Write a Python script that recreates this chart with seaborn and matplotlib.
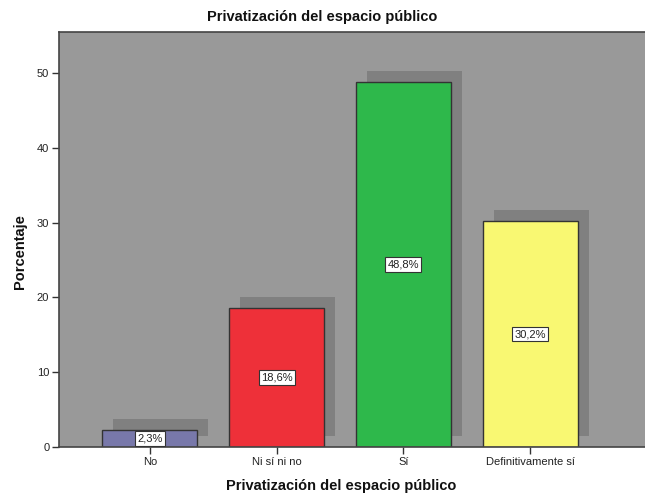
import numpy as np
import matplotlib
matplotlib.use("Agg")
import matplotlib.pyplot as plt
import matplotlib.patheffects as pe
import seaborn as sns

categorias = ["No", "Ni sí ni no", "Sí", "Definitivamente sí"]
porcentajes = [2.3, 18.6, 48.8, 30.2]
etiquetas = ["2,3%", "18,6%", "48,8%", "30,2%"]
colores = ["#7878aa", "#ee3039", "#2eb84b", "#f9f872"]

sns.set_style("white")
plt.rcParams['font.family'] = ['Liberation Sans', 'DejaVu Sans']

fig = plt.figure(figsize=(6.45, 4.96), dpi=100)
ax = fig.add_axes([59/645, 49/496, 1 - 59/645, 415/496])
ax.set_facecolor("#999999")

sns.barplot(x=categorias, y=porcentajes, hue=categorias, palette=colores,
            legend=False, width=0.75, saturation=1, edgecolor="#333333",
            linewidth=1, ax=ax)

# sombra gris detrás de cada barra (como en SPSS)
for p in ax.patches:
    p.set_path_effects([pe.SimplePatchShadow(offset=(7.9, 7.9), shadow_rgbFace="#808080", alpha=1.0),
                        pe.Normal()])

for i, (v, t) in enumerate(zip(porcentajes, etiquetas)):
    ax.text(i, v / 2, t, ha="center", va="center", fontsize=8, color="#222222",
            bbox=dict(boxstyle="square,pad=0.2", fc="white", ec="#333333", lw=0.8))

ax.set_xlim(-0.717, 3.906)
ax.set_ylim(0, 55.5)
ax.set_yticks([0, 10, 20, 30, 40, 50])
ax.tick_params(axis="both", direction="out", length=5, width=1, color="#333333",
               labelsize=8, labelcolor="#222222", left=True, bottom=True, pad=2)

for s in ["left", "top", "bottom"]:
    ax.spines[s].set_color("#444444")
    ax.spines[s].set_linewidth(1.2)
ax.spines["right"].set_visible(False)

ax.set_xlabel("Privatización del espacio público", fontsize=10.5, fontweight="bold", color="#111111")
ax.xaxis.label.set_va("center")
ax.xaxis.set_label_coords(0.481, -0.094)
ax.set_ylabel("Porcentaje", fontsize=10.5, fontweight="bold", color="#111111")
ax.yaxis.label.set_va("center")
ax.yaxis.set_label_coords(-0.066, 0.47)

fig.suptitle("Privatización del espacio público", x=0.5, y=0.966, fontsize=10.5,
             fontweight="bold", color="#111111", va="center")

plt.savefig("out.png", dpi=100)
